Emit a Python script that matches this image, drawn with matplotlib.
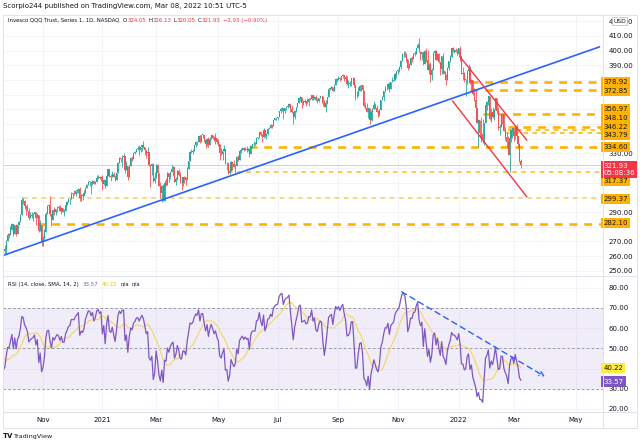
import numpy as np
import pandas as pd
import matplotlib
matplotlib.use("Agg")
import matplotlib.pyplot as plt
import matplotlib.transforms as mtransforms
from matplotlib.lines import Line2D

plt.rcParams['font.family'] = ['DejaVu Sans']

# ---------------- data (QQQ daily) ----------------
# closes before the first visible bar (Aug 3 - Sep 22 2020), used for opens / RSI history
warmup_closes = [269.4, 270.0, 271.2, 274.1, 272.2, 270.2, 264.6, 270.6, 271.2, 271.3, 273.9,
                 276.3, 274.7, 278.8, 281.2, 282.6, 284.3, 290.7, 290.6, 292.9, 294.9,
                 299.2, 302.5, 287.1, 283.4, 270.1, 280.2, 274.6, 272.5, 275.6, 278.5,
                 273.1, 269.7, 266.2, 266.0, 270.5]

closes = [
    263.6, 264.6, 270.0, 274.6, 274.4, 277.8,
    281.7, 274.7, 281.0, 275.0, 280.9, 283.0, 288.1, 298.0, 297.4, 294.0, 292.8, 290.9, 286.0, 287.3, 287.9, 288.5, 289.7, 285.7, 288.2, 277.0, 281.5, 269.4,
    271.5, 276.6, 288.6, 294.2, 294.4, 288.4, 284.4, 291.4, 289.9, 292.1, 293.6, 292.9, 290.8, 293.0, 290.3, 290.5, 294.8, 296.5, 298.7, 299.1,
    302.5, 302.5, 302.4, 304.1, 305.1, 306.0, 299.9, 301.6, 301.2, 302.7, 306.6, 308.6, 310.6, 310.6, 309.6, 311.0, 309.2, 310.5, 313.3, 313.8, 313.1, 313.7,
    309.3, 312.0, 307.5, 314.9, 319.0, 314.4, 314.0, 316.2, 314.0, 311.9, 316.4, 323.7, 326.6, 325.9, 327.8, 328.0, 318.5, 321.1, 314.0,
    321.5, 326.6, 325.9, 329.9, 330.9, 333.0, 333.4, 332.3, 334.0, 335.4, 334.5, 332.6, 330.3, 331.1, 322.1, 321.1, 322.4, 310.9, 313.0,
    322.0, 316.9, 307.8, 302.9, 307.6, 297.7, 309.5, 308.6, 316.8, 314.1, 317.5, 319.6, 320.5, 310.6, 312.8, 318.1, 315.3, 309.9, 309.7, 314.0, 313.7, 311.7, 319.1,
    324.8, 331.2, 330.8, 331.9, 335.5, 338.0, 337.5, 341.5, 337.5, 342.6, 342.7, 339.3, 336.4, 340.1, 335.4, 339.9, 342.3, 340.7, 338.8, 340.3, 338.0,
    336.7, 330.5, 329.5, 331.5, 332.9, 323.1, 323.3, 316.4, 318.2, 324.4, 322.4, 320.6, 321.6, 327.4, 325.4, 331.3, 332.5, 333.4, 332.2, 333.2,
    332.5, 332.9, 329.3, 335.0, 336.4, 336.5, 336.5, 340.6, 341.0, 344.4, 342.3, 341.2, 345.8, 341.6, 343.5, 346.8, 347.2, 349.1, 348.6, 352.6, 353.8, 354.4,
    354.6, 358.6, 360.2, 360.6, 358.6, 360.9, 361.8, 362.2, 363.3, 360.5, 357.9, 354.6, 358.7, 361.4, 364.0, 367.9, 368.5, 364.6, 365.0, 365.4, 364.6,
    364.9, 367.2, 367.1, 369.6, 367.6, 368.6, 366.3, 366.0, 367.9, 369.1, 368.8, 365.0, 361.9, 364.5, 368.3, 373.7, 374.4, 375.0, 372.8, 376.9, 380.7, 380.1,
    381.4, 380.6, 382.4, 383.4, 381.7, 380.5, 377.0, 377.2, 378.0, 381.3, 381.4, 376.6, 368.8, 368.9, 372.8, 376.0, 376.3, 373.1, 362.1, 361.2, 358.1,
    360.8, 352.9, 357.9, 360.2, 363.1, 360.8, 358.2, 357.0, 359.8, 366.3, 368.2, 372.2, 375.3, 375.2, 377.6, 373.9, 378.4, 379.3, 380.1, 384.3, 386.1,
    387.1, 388.7, 393.2, 397.6, 398.0, 397.3, 394.6, 388.0, 390.2, 394.7, 394.6, 397.8, 398.0, 401.6, 403.9, 399.3, 397.6, 399.2, 391.2, 399.7, 393.9,
    387.1, 390.5, 383.3, 386.9, 398.5, 399.9, 393.5, 397.9, 392.0, 387.6, 396.2, 386.4, 384.2, 380.1, 388.4, 392.7, 395.6, 401.8, 400.3, 400.4, 399.3, 397.9,
    401.7, 396.6, 384.3, 384.2, 380.1, 380.5, 386.4, 387.8, 377.8, 380.0, 370.6, 366.4, 361.2, 350.7, 352.6, 343.6, 343.4, 339.9, 350.5, 363.1,
    365.1, 368.8, 353.5, 358.3, 355.0, 359.8, 367.4, 358.6, 347.3, 347.8, 356.8, 356.6, 345.5, 341.1, 337.4, 328.8, 340.7, 345.8, 347.1,
    341.5, 347.9, 341.6, 336.3, 324.86, 321.93]

highs = [
    271.0, 267.7, 270.6, 276.0, 275.6, 280.5,
    282.3, 279.0, 281.3, 282.0, 281.5, 284.0, 288.4, 300.0, 299.6, 298.5, 293.7, 295.3, 293.0, 290.2, 290.0, 289.4, 290.0, 289.0, 289.2, 284.0, 284.9, 277.9,
    274.0, 278.5, 290.0, 295.0, 295.7, 300.7, 287.5, 292.0, 293.1, 292.4, 294.0, 294.6, 295.0, 293.4, 293.0, 292.4, 295.4, 297.5, 299.6, 299.5,
    303.5, 303.0, 304.7, 304.2, 305.9, 306.4, 307.2, 302.1, 301.6, 305.1, 306.8, 309.2, 311.0, 311.3, 309.9, 311.8, 311.5, 310.9, 315.0, 315.5, 314.6, 314.2,
    315.5, 312.5, 311.8, 315.9, 319.2, 317.7, 316.0, 317.7, 317.5, 315.0, 316.8, 324.0, 327.4, 326.8, 329.0, 330.0, 324.0, 325.0, 319.5,
    322.0, 327.8, 328.3, 330.0, 331.9, 333.2, 334.7, 335.4, 334.6, 335.5, 338.2, 332.9, 331.0, 334.0, 328.7, 321.5, 323.5, 323.0, 317.0,
    322.6, 322.6, 316.1, 310.5, 308.1, 309.4, 311.7, 313.5, 317.2, 314.2, 317.6, 322.3, 321.5, 316.8, 313.7, 318.7, 319.6, 317.0, 311.0, 314.2, 314.7, 312.8, 320.7,
    325.0, 331.6, 332.9, 332.8, 335.7, 338.1, 338.3, 341.8, 342.5, 342.8, 343.0, 342.4, 339.9, 340.4, 341.0, 341.4, 342.7, 342.6, 342.0, 344.0, 339.4,
    339.8, 334.3, 333.7, 331.8, 335.4, 331.4, 324.0, 321.4, 321.0, 324.9, 322.9, 325.5, 322.5, 327.9, 329.1, 332.0, 333.5, 334.0, 334.0, 334.3,
    335.0, 333.5, 331.0, 335.5, 336.6, 338.2, 338.0, 340.8, 341.2, 344.5, 344.4, 343.5, 347.1, 346.0, 343.8, 347.0, 348.3, 349.7, 349.4, 352.8, 354.4, 354.7,
    354.8, 358.8, 361.0, 361.6, 359.5, 361.2, 362.0, 363.7, 364.3, 363.6, 363.0, 355.9, 359.8, 361.8, 364.6, 368.2, 369.0, 368.5, 366.6, 367.2, 365.4,
    367.4, 367.4, 368.0, 369.7, 369.2, 369.4, 369.6, 367.4, 368.0, 369.3, 369.0, 367.0, 366.5, 366.3, 368.6, 374.0, 375.0, 375.9, 375.3, 377.4, 381.1, 381.2,
    382.8, 382.1, 382.7, 384.0, 383.4, 383.6, 383.0, 379.7, 379.3, 381.6, 381.8, 381.6, 374.0, 372.5, 374.9, 376.7, 376.6, 375.1, 369.9, 364.8, 364.4,
    361.1, 359.7, 359.6, 360.7, 365.7, 364.0, 363.2, 359.5, 360.4, 366.5, 368.8, 372.6, 375.6, 376.3, 377.7, 378.3, 378.7, 381.8, 382.6, 384.7, 386.3,
    387.5, 389.6, 393.6, 398.2, 400.1, 399.8, 398.3, 394.4, 391.5, 394.8, 396.1, 398.3, 399.5, 402.1, 405.0, 408.7, 400.0, 399.4, 396.8, 400.2, 401.7,
    400.2, 391.5, 392.0, 388.2, 399.0, 400.5, 400.3, 398.7, 398.6, 390.0, 396.6, 398.3, 386.0, 381.5, 388.7, 393.0, 397.2, 401.9, 402.5, 401.1, 402.1, 400.9,
    401.9, 403.0, 395.8, 388.6, 385.5, 380.8, 386.6, 390.8, 389.5, 380.4, 374.4, 374.3, 372.4, 361.1, 353.1, 351.4, 354.6, 353.4, 350.6, 363.4,
    366.0, 369.4, 363.2, 360.9, 361.7, 360.4, 367.6, 366.6, 361.3, 349.9, 357.0, 357.4, 353.9, 347.8, 344.6, 341.7, 341.4, 346.1, 347.3,
    347.6, 348.5, 350.2, 340.8, 337.3, 326.13]

lows = [
    263.0, 261.5, 262.0, 272.0, 272.5, 274.5,
    279.5, 273.5, 276.5, 274.0, 277.5, 281.0, 284.5, 291.5, 295.5, 292.3, 288.0, 290.5, 284.6, 286.3, 286.0, 283.8, 286.5, 281.4, 285.6, 276.7, 277.7, 267.0,
    267.1, 271.8, 283.5, 291.3, 290.4, 287.5, 280.2, 288.0, 287.8, 288.3, 290.0, 291.7, 290.5, 289.0, 290.2, 287.6, 290.7, 295.0, 297.0, 295.2,
    300.0, 299.4, 301.6, 301.0, 302.9, 302.7, 297.7, 297.3, 298.0, 301.8, 303.7, 306.1, 309.0, 307.5, 302.6, 308.5, 309.0, 309.2, 312.0, 312.3, 312.6, 311.0,
    305.0, 308.7, 306.4, 310.0, 315.0, 314.0, 311.3, 313.8, 313.7, 310.9, 313.5, 319.0, 324.5, 324.0, 320.9, 326.0, 316.3, 318.5, 312.0,
    315.5, 323.2, 325.0, 326.4, 329.5, 330.6, 332.0, 329.2, 330.6, 331.6, 333.5, 328.8, 327.0, 330.2, 321.7, 307.0, 315.2, 310.5, 309.7,
    316.7, 316.6, 307.7, 299.8, 297.0, 297.2, 304.4, 307.5, 313.2, 310.2, 312.5, 318.0, 314.6, 310.4, 308.7, 312.0, 314.6, 309.8, 304.8, 307.5, 309.6, 308.7, 313.7,
    322.0, 326.7, 330.5, 329.7, 333.2, 334.1, 335.6, 337.7, 337.2, 339.7, 340.6, 337.5, 333.5, 334.7, 334.1, 335.5, 340.2, 339.6, 338.3, 336.7, 336.7,
    335.3, 325.3, 329.0, 325.5, 331.5, 322.9, 318.6, 315.6, 316.0, 320.3, 318.8, 320.4, 316.4, 321.4, 325.0, 327.6, 330.4, 332.2, 331.4, 332.4,
    330.7, 331.3, 327.2, 330.3, 333.7, 334.9, 336.0, 336.8, 339.5, 340.6, 341.9, 337.5, 340.4, 341.3, 339.7, 342.2, 346.6, 348.0, 347.6, 349.0, 352.5, 352.7,
    352.6, 355.2, 357.2, 358.8, 353.5, 357.6, 359.6, 360.9, 361.9, 358.5, 357.5, 350.3, 353.7, 357.9, 361.3, 364.0, 365.9, 360.6, 363.0, 364.6, 362.0,
    363.8, 362.6, 366.1, 366.6, 366.4, 367.2, 365.5, 364.4, 365.1, 367.5, 364.6, 362.2, 361.6, 358.3, 363.9, 369.8, 373.2, 374.1, 372.4, 372.7, 377.8, 378.6,
    380.5, 379.3, 379.7, 381.6, 379.1, 380.1, 376.9, 374.3, 375.6, 376.2, 378.3, 375.4, 366.3, 367.4, 368.9, 373.5, 372.6, 371.5, 361.5, 360.0, 357.9,
    354.3, 349.8, 354.2, 351.8, 362.0, 360.3, 358.1, 354.9, 355.6, 362.7, 366.2, 366.0, 372.0, 373.0, 374.1, 371.8, 374.5, 378.3, 379.7, 380.8, 381.4,
    384.3, 385.6, 387.6, 394.4, 396.0, 395.5, 392.1, 386.6, 388.6, 390.2, 392.2, 394.0, 396.4, 397.8, 401.8, 398.9, 393.8, 393.8, 390.5, 394.6, 392.4,
    386.9, 383.8, 378.5, 379.9, 393.1, 396.1, 393.3, 393.6, 391.6, 383.6, 384.1, 384.3, 380.5, 376.3, 382.3, 386.7, 392.4, 396.7, 399.4, 398.6, 399.2, 397.3,
    396.6, 392.8, 384.1, 380.3, 378.6, 369.3, 377.5, 385.0, 377.2, 373.1, 369.7, 366.0, 360.9, 350.5, 334.6, 341.1, 337.4, 337.3, 336.0, 351.0,
    359.6, 363.1, 352.4, 351.1, 354.2, 352.8, 363.6, 356.6, 346.0, 342.7, 352.2, 350.3, 345.0, 339.2, 333.7, 328.6, 317.4, 337.9, 340.7,
    338.3, 340.1, 339.6, 333.5, 323.8, 320.05]

market_holidays = ['2020-11-26', '2020-12-25', '2021-01-01', '2021-01-18', '2021-02-15',
                   '2021-04-02', '2021-05-31', '2021-07-05', '2021-09-06', '2021-11-25',
                   '2021-12-24', '2022-01-17', '2022-02-21']

# horizontal support / resistance levels drawn on the chart
levels = [378.92, 372.85, 356.97, 348.10, 346.22, 343.79, 334.60, 317.37, 299.37, 282.10]
level_start = [330, 330, 339, 357, 357, 355, 174, 159, 14, 24]   # bar index where each level starts
level_thick = [True, True, True, True, False, False, True, False, False, True]
level_alpha = [1, 1, 1, 1, 1, 1, 1, 0.9, 0.6, 1]
level_label_pos = [378.64, 372.30, 359.89, 354.09, 348.30, 342.50, 334.12, 310.93, 298.66, 282.30]

last_price = 321.93
countdown = "05:08:36"
rsi_last, rsi_ma_last = "33.57", "40.22"

# drawn trend lines (bar index, price)
blue_trend = ([0, 422], [260.5, 402.7])
red_upper = ([322.9, 370.1], [395.9, 339.1])
red_lower = ([317.7, 370.1], [365.7, 300.5])
rsi_arrow = ((281.7, 78.0), (383.1, 36.0))

tick_months = [(2020, 11), (2021, 1), (2021, 3), (2021, 5), (2021, 7), (2021, 9),
               (2021, 11), (2022, 1), (2022, 3), (2022, 5)]
tick_labels = ["Nov", "2021", "Mar", "May", "Jul", "Sep", "Nov", "2022", "Mar", "May"]

# price-scale ticks hidden behind the level labels in the reference
price_ticks_hidden = [280, 300, 310, 320, 340, 350, 360, 370, 380]
rsi_ticks_hidden = [40]

# ---------------- derived series ----------------
n = min(len(closes), len(highs), len(lows))
all_c = np.array(warmup_closes + closes[:n], dtype=float)
c = np.array(closes[:n], dtype=float)
o = all_c[len(warmup_closes) - 1:-1]
h = np.maximum(np.array(highs[:n], dtype=float), np.maximum(o, c))
l = np.minimum(np.array(lows[:n], dtype=float), np.minimum(o, c))
x = np.arange(n)

def rsi_wilder(cl, per=14):
    d = np.diff(cl)
    up = np.clip(d, 0, None)
    dn = np.clip(-d, 0, None)
    au = np.full(len(cl), np.nan)
    ad = np.full(len(cl), np.nan)
    au[per] = up[:per].mean()
    ad[per] = dn[:per].mean()
    for i in range(per + 1, len(cl)):
        au[i] = (au[i - 1] * (per - 1) + up[i - 1]) / per
        ad[i] = (ad[i - 1] * (per - 1) + dn[i - 1]) / per
    return 100 - 100 / (1 + au / ad)

rsi_all = rsi_wilder(all_c)
rsi_ma_all = pd.Series(rsi_all).rolling(14).mean().values
rsi = rsi_all[len(warmup_closes):]
rsi_ma = rsi_ma_all[len(warmup_closes):]

dates = pd.bdate_range('2020-09-23', '2022-03-08', freq='C', holidays=market_holidays)
future = pd.bdate_range('2022-03-09', '2022-06-30')
all_dates = list(dates[:n]) + list(future)
tick_pos = []
for (yy, mm) in tick_months:
    for i, d in enumerate(all_dates):
        if d.year == yy and d.month == mm:
            tick_pos.append(i)
            break

# ---------------- figure ----------------
W, H = 640, 444
fig = plt.figure(figsize=(W / 100, H / 100), dpi=100)
fig.patch.set_facecolor('white')

def fr(px, py):
    return px / W, 1 - py / H

LEFT, RIGHT = 3, 602.5
P_TOP, P_BOT = 15, 276
R_TOP, R_BOT = 276, 411.7
ax = fig.add_axes([LEFT / W, 1 - P_BOT / H, (RIGHT - LEFT) / W, (P_BOT - P_TOP) / H])
axr = fig.add_axes([LEFT / W, 1 - R_BOT / H, (RIGHT - LEFT) / W, (R_BOT - R_TOP) / H])

XMIN = -0.29
XMAX = XMIN + (RIGHT - LEFT) / 1.4138
TXT = '#131722'
GRID = '#F0F3FA'

for a in (ax, axr):
    a.set_xlim(XMIN, XMAX)
    for s in a.spines.values():
        s.set_visible(False)
    a.set_facecolor('none')
    a.yaxis.tick_right()
    a.tick_params(axis='both', length=0, labelsize=5, labelcolor=TXT)
    for tp in tick_pos:
        a.axvline(tp, color=GRID, lw=0.6, zorder=0)

# ---- price pane ----
ax.set_ylim(246.4, 424.3)
yt = np.arange(250, 421, 10)
ax.set_yticks(yt)
ax.set_yticklabels(["" if v in price_ticks_hidden else f"{v:.2f}" for v in yt])
ax.tick_params(axis='y', pad=4.3)
ax.set_xticks([])
for v in yt:
    ax.axhline(v, color=GRID, lw=0.6, zorder=0)

ax.axhline(last_price, color='#F23645', alpha=0.35, lw=0.6, zorder=1)

up = c >= o
cols = np.where(up, '#26A69A', '#EF5350')
ax.vlines(x, l, h, colors=cols, lw=0.6, zorder=3)
ax.bar(x, np.maximum(np.abs(c - o), 0.3), bottom=np.minimum(o, c), width=0.8,
       color=cols, linewidth=0, zorder=3)

ax.plot(blue_trend[0], blue_trend[1], color='#2962FF', lw=1.2, zorder=4, solid_capstyle='butt')
ax.plot(red_upper[0], red_upper[1], color='#F23645', lw=1.0, zorder=4)
ax.plot(red_lower[0], red_lower[1], color='#F23645', lw=1.0, zorder=4)

ORANGE = '#FFB300'
for lv, st, thick, al in zip(levels, level_start, level_thick, level_alpha):
    if thick:
        ax.plot([st, XMAX], [lv, lv], color=ORANGE, lw=1.9, alpha=al, zorder=2,
                dashes=(3.0, 2.6), solid_capstyle='butt', dash_capstyle='butt')
    else:
        ax.plot([st, XMAX], [lv, lv], color=ORANGE, lw=1.1, alpha=al, zorder=2,
                dashes=(3.0, 3.0), dash_capstyle='butt')

trans = mtransforms.blended_transform_factory(ax.transAxes, ax.transData)
lab_x = (603.5 - LEFT) / (RIGHT - LEFT)
for lv, pos in zip(levels, level_label_pos):
    ax.text(lab_x, pos, f"{lv:.2f}", transform=trans, fontsize=5, color=TXT, va='center', ha='left',
            clip_on=False, zorder=10,
            bbox=dict(boxstyle='square,pad=0.3', fc=ORANGE, ec='none'))
ax.text(lab_x, 319.0, f"{last_price:.2f}\n{countdown}", transform=trans, fontsize=5, color='white',
        va='center', ha='left', clip_on=False, zorder=10, linespacing=1.35,
        bbox=dict(boxstyle='square,pad=0.3', fc='#F23645', ec='none'))
ax.text((613 - LEFT) / (RIGHT - LEFT), 420.2, "USD", transform=trans, fontsize=4.3, color=TXT,
        va='center', ha='left', clip_on=False, zorder=10,
        bbox=dict(boxstyle='square,pad=0.25', fc='white', ec='#B2B5BE', lw=0.5))

# ---- RSI pane ----
axr.set_ylim(18.66, 85.8)
rt = np.arange(20, 81, 10)
axr.set_yticks(rt)
axr.set_yticklabels(["" if v in rsi_ticks_hidden else f"{v:.2f}" for v in rt])
axr.tick_params(axis='y', pad=4.3)
axr.set_xticks(tick_pos)
axr.set_xticklabels(tick_labels)
axr.tick_params(axis='x', pad=4.0)
for v in rt:
    axr.axhline(v, color=GRID, lw=0.6, zorder=0)
axr.axhspan(30, 70, color='#7E57C2', alpha=0.1, lw=0, zorder=0.5)
for v in (70, 50, 30):
    axr.axhline(v, color='#9598A1', lw=0.7, dashes=(2.5, 2.5), zorder=1)
axr.plot(x, rsi_ma, color='#F5D76E', lw=0.9, zorder=2)
axr.plot(x, rsi, color='#7E57C2', lw=0.9, zorder=3)
axr.annotate('', xy=rsi_arrow[1], xytext=rsi_arrow[0],
             arrowprops=dict(arrowstyle='->', color='#2962FF', lw=1.0, ls=(0, (4, 3)),
                             shrinkA=0, shrinkB=0, mutation_scale=8), zorder=4)
transr = mtransforms.blended_transform_factory(axr.transAxes, axr.transData)
axr.text(lab_x, float(rsi_ma_last), rsi_ma_last, transform=transr, fontsize=5, color=TXT,
         va='center', ha='left', clip_on=False, zorder=10,
         bbox=dict(boxstyle='square,pad=0.3', fc='#FFEB3B', ec='none'))
axr.text(lab_x, float(rsi_last), rsi_last, transform=transr, fontsize=5, color='white',
         va='center', ha='left', clip_on=False, zorder=10,
         bbox=dict(boxstyle='square,pad=0.3', fc='#7E57C2', ec='none'))

# ---- headers (segments placed left to right from measured widths; gaps in pixels) ----
renderer = fig.canvas.get_renderer()

def chain(parts, px, py, fs=5):
    cur = px
    for s, col, gap in parts:
        cur += gap
        t = fig.text(*fr(cur, py), s, color=col, fontsize=fs, va='center', ha='left')
        bb = t.get_window_extent(renderer)
        cur += bb.width
    return cur

RED = '#F23645'
fig.text(*fr(3, 6), "Scorpio244 published on TradingView.com, Mar 08, 2022 10:51 UTC-5",
         color=TXT, fontsize=5, va='center', ha='left')
chain([("Invesco QQQ Trust, Series 1, 1D, NASDAQ", TXT, 0), ("O", TXT, 3.5), ("324.05", RED, 0.3),
       ("H", TXT, 2.0), ("326.13", RED, 0.3), ("L", TXT, 2.0), ("320.05", RED, 0.3),
       ("C", TXT, 2.0), ("321.93", RED, 0.3), ("\u22122.93 (\u22120.90%)", RED, 2.5)], 8, 20.5, fs=3.9)
chain([("RSI (14, close, SMA, 14, 2)", TXT, 0), (rsi_last, '#7E57C2', 3.5),
       (rsi_ma_last, '#F2C200', 3.5), ("n/a", TXT, 3.5), ("n/a", TXT, 2.8)], 8, 284.5, fs=3.9)
fig.text(*fr(3, 436), "TV", color=TXT, fontsize=5, fontweight='bold', va='center', ha='left')
fig.text(*fr(13, 436), "TradingView", color=TXT, fontsize=4.6, va='center', ha='left')

# ---- frame lines ----
FR = '#E0E3EB'
def hline(py, x0=3, x1=637):
    fig.add_artist(Line2D([x0 / W, x1 / W], [1 - py / H, 1 - py / H], color=FR, lw=0.7))
def vline(px, y0=15, y1=428):
    fig.add_artist(Line2D([px / W, px / W], [1 - y0 / H, 1 - y1 / H], color=FR, lw=0.7))
for py in (15, 276, 411.7, 428):
    hline(py)
for px in (3, 602.7, 637):
    vline(px)

fig.savefig('out.png', dpi=100, facecolor='white')
